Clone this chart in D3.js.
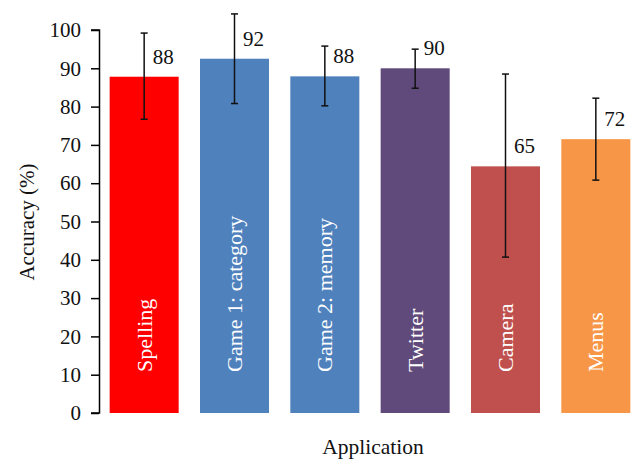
<!DOCTYPE html>
<html>
<head>
<meta charset="utf-8">
<script src="https://cdn.jsdelivr.net/npm/d3@7"></script>
<style>
  body { margin: 0; background: #fff; }
  svg text { font-family: "Liberation Serif", "DejaVu Serif", serif; }
</style>
</head>
<body>
<div id="chart"></div>
<script>
// data
const apps = ["Spelling", "Game 1: category", "Game 2: memory", "Twitter", "Camera", "Menus"];
const accuracy = [87.8, 92.5, 87.9, 90.0, 64.4, 71.5];
const errLow = [76.7, 80.8, 80.2, 84.8, 40.7, 60.8];
const errHigh = [99.2, 104.2, 95.8, 95.0, 88.5, 82.2];
const valueLabels = ["88", "92", "88", "90", "65", "72"];
const barColors = ["#ff0000", "#4f81bd", "#4f81bd", "#604a7b", "#c0504d", "#f79646"];
const yTicks = [0, 10, 20, 30, 40, 50, 60, 70, 80, 90, 100];

const width = 644;
const height = 474;

const svg = d3.select("#chart")
  .append("svg")
  .attr("width", width)
  .attr("height", height);

const x = d3.scaleBand()
  .domain(apps)
  .range([99, 641])
  .paddingInner(0.236)
  .paddingOuter(0.118);

const y = d3.scaleLinear()
  .domain([0, 100])
  .range([413, 30]);

// y axis
const yAxis = svg.append("g")
  .attr("transform", "translate(99,0)")
  .call(d3.axisLeft(y).tickValues(yTicks).tickSize(8).tickPadding(10))
  .call((g) => g.select(".domain").attr("d", "M-8,413H0.5V30H-8").attr("stroke", "#000").attr("stroke-width", 1.5));
yAxis.selectAll(".tick line").attr("stroke", "#000").attr("stroke-width", 1.5);
yAxis.selectAll(".tick text")
  .attr("font-size", 21)
  .attr("fill", "#111")
  .style("font-family", '"Liberation Serif", serif');

// bars
svg.append("g")
  .selectAll("rect")
  .data(apps)
  .enter()
  .append("rect")
  .attr("x", (d) => x(d))
  .attr("y", (d, i) => y(accuracy[i]))
  .attr("width", x.bandwidth())
  .attr("height", (d, i) => y(0) - y(accuracy[i]))
  .attr("fill", (d, i) => barColors[i]);

// error bars
const err = svg.append("g")
  .attr("stroke", "#111")
  .attr("stroke-width", 1.5);
apps.forEach((d, i) => {
  const cx = x(d) + x.bandwidth() / 2;
  err.append("line")
    .attr("x1", cx).attr("x2", cx)
    .attr("y1", y(errHigh[i])).attr("y2", y(errLow[i]));
  err.append("line")
    .attr("x1", cx - 3.5).attr("x2", cx + 3.5)
    .attr("y1", y(errHigh[i])).attr("y2", y(errHigh[i]));
  err.append("line")
    .attr("x1", cx - 3.5).attr("x2", cx + 3.5)
    .attr("y1", y(errLow[i])).attr("y2", y(errLow[i]));
});

// value labels
svg.append("g")
  .selectAll("text")
  .data(apps)
  .enter()
  .append("text")
  .attr("x", (d) => x(d) + x.bandwidth() / 2 + 8.5)
  .attr("y", (d, i) => y(accuracy[i]) - 13)
  .attr("font-size", 21)
  .attr("fill", "#111")
  .text((d, i) => valueLabels[i]);

// category names inside bars
svg.append("g")
  .selectAll("text")
  .data(apps)
  .enter()
  .append("text")
  .attr("transform", (d) => `translate(${x(d) + x.bandwidth() / 2 + 7.5},372) rotate(-90)`)
  .attr("font-size", 22)
  .attr("fill", "#fff")
  .text((d) => d);

// axis titles
svg.append("text")
  .attr("transform", "translate(34,222) rotate(-90)")
  .attr("text-anchor", "middle")
  .attr("font-size", 21)
  .attr("fill", "#111")
  .text("Accuracy (%)");

svg.append("text")
  .attr("x", 373)
  .attr("y", 454)
  .attr("text-anchor", "middle")
  .attr("font-size", 21.5)
  .attr("fill", "#111")
  .text("Application");
</script>
</body>
</html>
